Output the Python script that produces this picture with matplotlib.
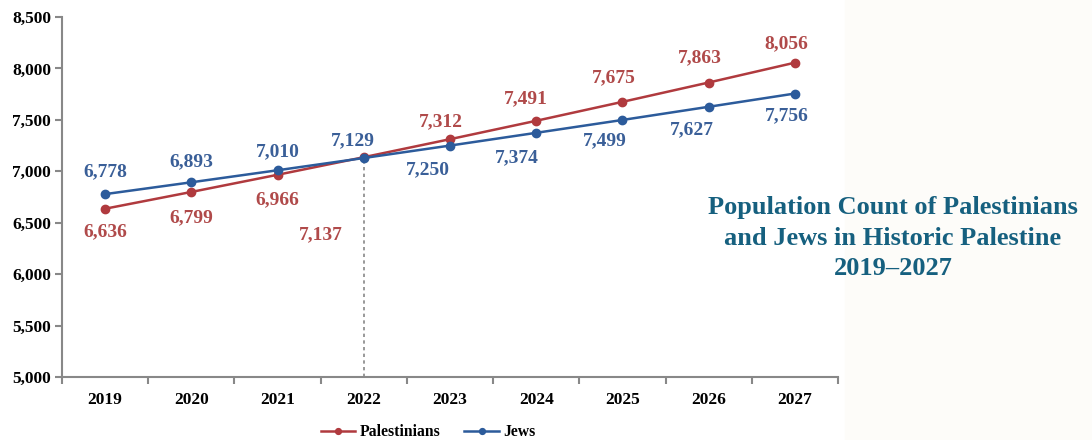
import matplotlib.pyplot as plt
from matplotlib.patches import Rectangle
from matplotlib.ticker import FuncFormatter, FixedLocator

# -----------------------------
# Data (thousands)
# -----------------------------
years = ["2019", "2020", "2021", "2022", "2023", "2024", "2025", "2026", "2027"]
palestinians = [6636, 6799, 6966, 7137, 7312, 7491, 7675, 7863, 8056]
jews = [6778, 6893, 7010, 7129, 7250, 7374, 7499, 7627, 7756]

# label offsets in pixels (dx, dy)
pal_off = [(0, -23), (0, -26), (0, -25), (-43, -78), (-9, 17),
           (-10, 22), (-9, 24), (-9, 25), (-9, 19)]
jew_off = [(0, 22), (0, 21), (0, 19), (-11, 17), (-22, -24),
           (-19, -25), (-18, -21), (-17, -23), (-8, -22)]

red = "#b03a3e"
blue = "#2c5b9b"
red_txt = "#b04a4a"
blue_txt = "#3a5f98"
title_col = "#16607f"

plt.rcParams['font.family'] = ['Liberation Serif', 'DejaVu Serif']
plt.rcParams['font.weight'] = 'bold'

fig = plt.figure(figsize=(10.92, 4.4), dpi=100)
fig.patch.set_facecolor("white")
fig.patches.append(Rectangle((845 / 1092, 0), 1 - 845 / 1092, 1,
                             transform=fig.transFigure, color="#fdfcf9", zorder=0))

ax = fig.add_axes([62 / 1092, 1 - 377 / 440, 776 / 1092, 360 / 440])
ax.set_facecolor("none")

x = list(range(len(years)))
ax.plot(x, palestinians, color=red, lw=1.8, marker="o", ms=6, label="Palestinians", zorder=3)
ax.plot(x, jews, color=blue, lw=1.8, marker="o", ms=6, label="Jews", zorder=3)

# dotted line at 2022
ax.plot([3, 3], [5000, jews[3]], color="#888888", lw=1.2, ls=(0, (2, 2)), zorder=2)

for i in x:
    dx, dy = pal_off[i]
    ax.annotate(f"{palestinians[i]:,}", (i, palestinians[i]), xytext=(dx * 0.72, dy * 0.72),
                textcoords="offset points", ha="center", va="center",
                color=red_txt, fontsize=14, fontweight="bold")
    dx, dy = jew_off[i]
    ax.annotate(f"{jews[i]:,}", (i, jews[i]), xytext=(dx * 0.72, dy * 0.72),
                textcoords="offset points", ha="center", va="center",
                color=blue_txt, fontsize=14, fontweight="bold")

ax.set_xlim(-0.5, len(years) - 0.5)
ax.set_ylim(5000, 8500)
ax.set_yticks(range(5000, 8501, 500))
ax.yaxis.set_major_formatter(FuncFormatter(lambda v, p: f"{int(v):,}"))
ax.set_xticks(x)
ax.set_xticklabels(years)
ax.xaxis.set_minor_locator(FixedLocator([i + 0.5 for i in range(-1, len(years))]))
ax.tick_params(axis="x", which="major", length=0, pad=11, labelsize=12.5)
ax.tick_params(axis="x", which="minor", length=5, direction="out", color="#888888", width=1.5)
ax.tick_params(axis="y", length=5, direction="out", color="#888888", width=1.5,
               labelsize=12.5, pad=3)

for s in ["top", "right"]:
    ax.spines[s].set_visible(False)
for s in ["left", "bottom"]:
    ax.spines[s].set_color("#888888")
    ax.spines[s].set_linewidth(1.5)

leg = ax.legend(loc="center", bbox_to_anchor=(0.472, -0.153), ncol=2, frameon=False,
                fontsize=11.3, handlelength=2.2, columnspacing=1.5, handletextpad=0.3,
                markerscale=0.7)

fig.text(893 / 1092, 1 - 238 / 440, "Population Count of Palestinians\nand Jews in Historic Palestine\n2019\u20132027",
         ha="center", va="center", color=title_col, fontsize=19, fontweight="bold",
         linespacing=1.42)

fig.savefig("out.png", dpi=100)
